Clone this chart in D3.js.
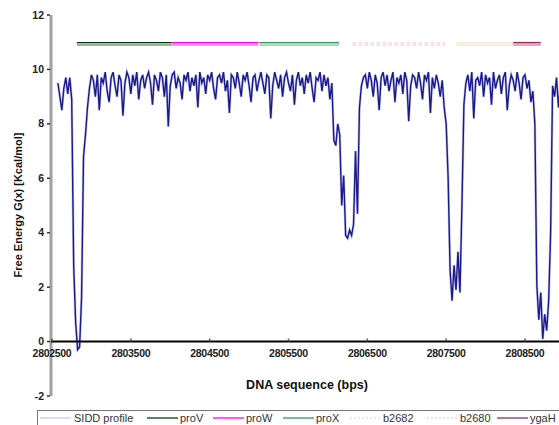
<!DOCTYPE html>
<html>
<head>
<meta charset="utf-8">
<script src="https://cdn.jsdelivr.net/npm/d3@7"></script>
<style>
  body { margin: 0; background: #fff; }
  svg { display: block; font-family: "Liberation Sans", Arial, sans-serif; }
</style>
</head>
<body>
<svg></svg>
<script>
const svgWidth = 559;
const svgHeight = 425;

// SIDD profile, sampled every 25 bp from 2802575
const seqStart = 2802575;
const seqStep = 25;
const sidd = [
  9.5, 9.0, 8.5, 9.3, 9.7, 9.1, 9.7, 8.9, 2.8, 0.7,
  -0.3, -0.2, 1.6, 6.8, 7.6, 8.6, 9.3, 9.8, 9.6, 9.0,
  9.8, 8.5, 9.7, 9.5, 9.9, 9.2, 8.8, 9.7, 9.9, 9.4,
  9.0, 9.8, 9.6, 8.3, 9.5, 9.9, 9.7, 9.1, 9.8, 9.4,
  9.9, 8.9, 9.6, 9.8, 9.3, 9.7, 9.9, 9.5, 8.7, 9.8,
  9.6, 9.2, 9.9, 9.7, 9.0, 9.8, 7.9, 9.4, 9.8, 9.9,
  9.3, 9.7, 9.5, 8.9, 9.8, 9.6, 9.9, 9.2, 9.7, 9.4,
  9.8, 8.6, 9.9, 9.5, 9.7, 9.1, 9.8, 9.6, 9.9, 9.3,
  8.9, 9.7, 9.8, 9.5, 9.9, 9.2, 9.6, 8.4, 9.8, 9.7,
  9.3, 9.9, 9.5, 9.0, 9.8, 9.6, 9.9, 9.4, 8.8, 9.7,
  9.8, 9.2, 9.6, 9.9, 9.5, 9.1, 9.8, 9.7, 8.2, 9.4,
  9.9, 9.6, 9.3, 9.8, 9.0, 9.7, 9.9, 9.5, 9.2, 9.8,
  8.7, 9.6, 9.9, 9.4, 9.7, 9.1, 9.8, 9.5, 9.9, 9.3,
  8.8, 9.7, 9.6, 9.9, 9.2, 9.8, 9.4, 9.7, 8.9, 9.5,
  7.4, 7.2, 8.0, 7.6, 5.0, 6.1, 3.9, 3.8, 4.1, 3.9,
  4.3, 7.0, 4.7, 8.6, 9.4, 9.7, 9.8, 9.3, 9.9, 9.6,
  9.0, 9.8, 9.5, 8.5, 9.7, 9.9, 9.4, 9.8, 9.2, 9.6,
  9.9, 8.8, 9.7, 9.5, 9.8, 9.1, 9.9, 9.6, 8.1, 9.4,
  9.8, 9.7, 9.3, 9.9, 9.5, 8.9, 9.8, 9.6, 9.9, 8.4,
  9.7, 9.3, 9.8, 9.5, 9.0, 9.6, 8.6, 8.0, 6.0, 2.6,
  1.5, 2.8, 1.9, 3.3, 1.8, 5.0, 8.7, 9.5, 9.8, 9.2,
  9.9, 8.2, 9.6, 9.7, 9.4, 9.9, 9.0, 9.8, 9.5, 9.7,
  8.7, 9.9, 9.3, 9.6, 9.8, 9.1, 9.7, 9.9, 8.5, 9.4,
  9.8, 9.6, 9.2, 9.9, 9.5, 8.9, 9.7, 9.8, 9.3, 9.6,
  8.8, 9.2, 8.0, 2.1, 0.8, 1.8, 0.1, 1.0, 0.4, 1.5,
  4.0, 9.4, 9.0, 9.7, 8.6, 9.5
];

// genes (bp)
const geneNames = ["proV", "proW", "proX", "b2682", "b2680", "ygaH"];
const geneStarts = [2802815, 2804020, 2805130, 2806310, 2807630, 2808350];
const geneEnds = [2804020, 2805120, 2806140, 2807490, 2808350, 2808700];

const xTicks = [2802500, 2803500, 2804500, 2805500, 2806500, 2807500, 2808500];
const yTicks = [12, 10, 8, 6, 4, 2, 0, -2];
const legendNames = ["SIDD profile", "proV", "proW", "proX", "b2682", "b2680", "ygaH"];

const geneStyle = {
  proV:  { top: "#0b3a0b", low: "#9fb59f", dash: null },
  proW:  { top: "#ff00ff", low: "#ff99f0", dash: null },
  proX:  { top: "#2f9a5a", low: "#aed8c0", dash: null },
  b2682: { top: "#f0dde2", low: "#f4e6ea", dash: "4,2" },
  b2680: { top: "#fde8d8", low: "#fdeee2", dash: null },
  ygaH:  { top: "#a02858", low: "#d8acc4", dash: null }
};

const svg = d3.select("svg")
  .attr("width", svgWidth)
  .attr("height", svgHeight);

const x = d3.scaleLinear().domain([2802500, 2808500]).range([52, 525]);
const y = d3.scaleLinear().domain([-2, 12]).range([396, 15]);

// y axis (gray bar)
svg.append("line")
  .attr("x1", 51).attr("x2", 51)
  .attr("y1", y(12)).attr("y2", y(-2))
  .attr("stroke", "#a0a0a0").attr("stroke-width", 3);

svg.selectAll(".ytick")
  .data(yTicks)
  .enter().append("line")
  .attr("x1", 47).attr("x2", 50)
  .attr("y1", d => y(d)).attr("y2", d => y(d))
  .attr("stroke", "#333").attr("stroke-width", 1.5);

svg.selectAll(".ylab")
  .data(yTicks)
  .enter().append("text")
  .attr("x", 44)
  .attr("y", d => y(d) + 3.5)
  .attr("text-anchor", "end")
  .attr("font-size", 10.5)
  .attr("font-weight", "bold")
  .attr("fill", "#222")
  .text(d => d);

// gene bars
const genesData = geneNames.map((g, i) => ({ name: g, start: geneStarts[i], end: geneEnds[i] }));
const geneG = svg.append("g");
geneG.selectAll(".glow")
  .data(genesData)
  .enter().append("line")
  .attr("x1", d => x(d.start)).attr("x2", d => x(d.end))
  .attr("y1", 44.5).attr("y2", 44.5)
  .attr("stroke", d => geneStyle[d.name].low)
  .attr("stroke-width", 3)
  .attr("stroke-dasharray", d => geneStyle[d.name].dash);
geneG.selectAll(".gtop")
  .data(genesData)
  .enter().append("line")
  .attr("x1", d => x(d.start)).attr("x2", d => x(d.end))
  .attr("y1", 42.5).attr("y2", 42.5)
  .attr("stroke", d => geneStyle[d.name].top)
  .attr("stroke-width", 1.2)
  .attr("stroke-dasharray", d => geneStyle[d.name].dash);

// SIDD line
const pts = sidd.map((v, i) => [seqStart + i * seqStep, v]);
const line = d3.line().x(d => x(d[0])).y(d => y(d[1]));
svg.append("path")
  .datum(pts)
  .attr("d", line)
  .attr("fill", "none")
  .attr("stroke", "#c8c8ee")
  .attr("stroke-width", 2.6);
svg.append("path")
  .datum(pts)
  .attr("d", line)
  .attr("fill", "none")
  .attr("stroke", "#1a1a8a")
  .attr("stroke-width", 1.4);

// x axis
svg.append("line")
  .attr("x1", 51).attr("x2", svgWidth)
  .attr("y1", y(0)).attr("y2", y(0))
  .attr("stroke", "#000").attr("stroke-width", 2);

svg.selectAll(".xtick")
  .data(xTicks)
  .enter().append("line")
  .attr("x1", d => x(d)).attr("x2", d => x(d))
  .attr("y1", y(0) - 3).attr("y2", y(0))
  .attr("stroke", "#555").attr("stroke-width", 1.5);

svg.selectAll(".xlab")
  .data(xTicks)
  .enter().append("text")
  .attr("x", d => x(d))
  .attr("y", y(0) + 15)
  .attr("text-anchor", "middle")
  .attr("font-size", 10.5)
  .attr("font-weight", "bold")
  .attr("letter-spacing", -0.3)
  .attr("fill", "#222")
  .text(d => d);

// axis titles
svg.append("text")
  .attr("x", 307).attr("y", 389)
  .attr("text-anchor", "middle")
  .attr("font-size", 12.5)
  .attr("font-weight", "bold")
  .attr("fill", "#111")
  .text("DNA sequence (bps)");

svg.append("text")
  .attr("transform", "translate(22,205) rotate(-90)")
  .attr("text-anchor", "middle")
  .attr("font-size", 11)
  .attr("font-weight", "bold")
  .attr("fill", "#111")
  .text("Free Energy G(x) [Kcal/mol]");

// legend
const legendX = [40, 147, 213, 283, 350, 427, 497];
const legendStyle = [
  { c: "#c8c8ee", dash: null },
  { c: "#0b3a0b", dash: null },
  { c: "#ff00ff", dash: null },
  { c: "#2f9a5a", dash: null },
  { c: "#f0dcdc", dash: "2,2" },
  { c: "#f0d8d8", dash: "2,2" },
  { c: "#a02858", dash: null }
];
svg.append("rect")
  .attr("x", 37.5).attr("y", 410.5)
  .attr("width", 540).attr("height", 30)
  .attr("fill", "#fff").attr("stroke", "#777");

const leg = svg.selectAll(".leg")
  .data(legendNames)
  .enter().append("g")
  .attr("transform", (d, i) => "translate(" + legendX[i] + ",0)");
leg.append("line")
  .attr("x1", 0).attr("x2", 31)
  .attr("y1", 418).attr("y2", 418)
  .attr("stroke", (d, i) => legendStyle[i].c)
  .attr("stroke-width", 1.3)
  .attr("stroke-dasharray", (d, i) => legendStyle[i].dash);
leg.append("text")
  .attr("x", (d, i) => i === 0 ? 34 : 33)
  .attr("y", 422)
  .attr("font-size", 11)
  .attr("fill", "#333")
  .text(d => d);
</script>
</body>
</html>
